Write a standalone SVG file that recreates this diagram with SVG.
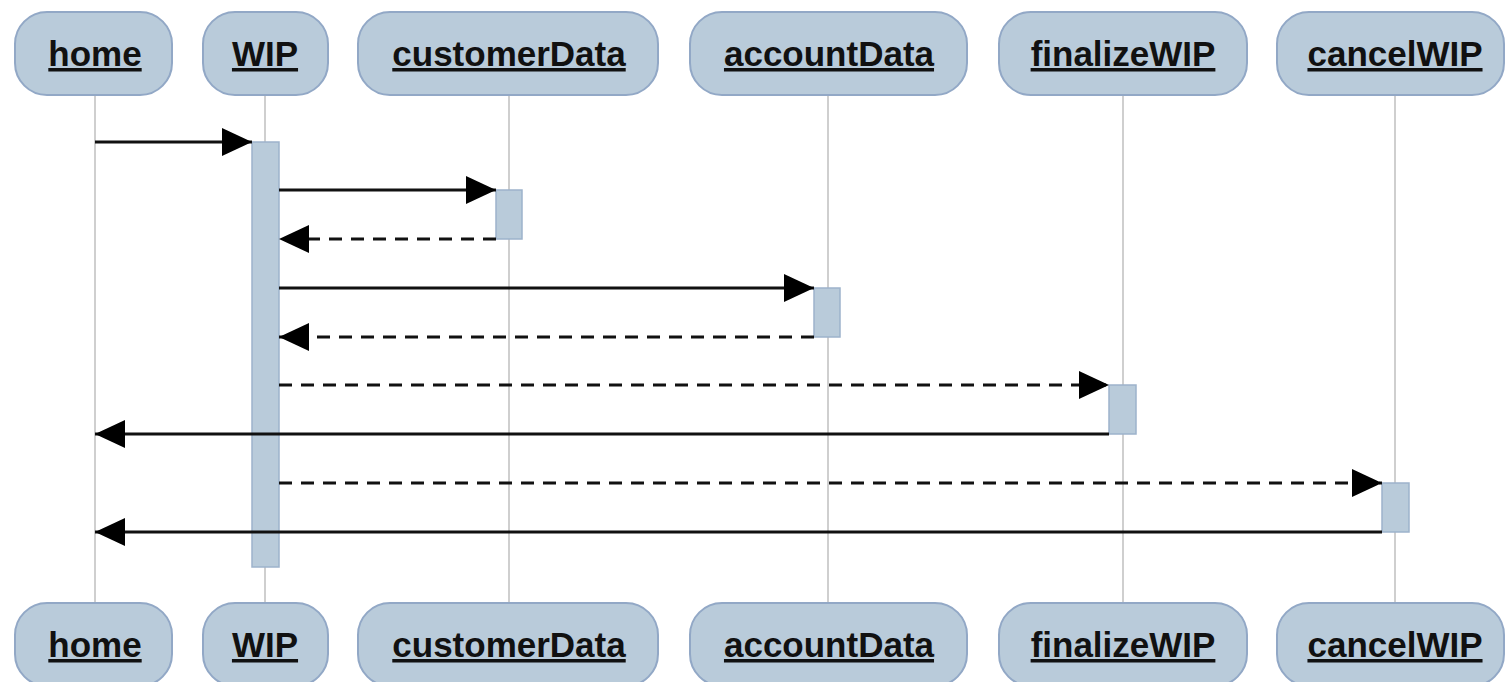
<svg xmlns="http://www.w3.org/2000/svg" width="1511" height="682" viewBox="0 0 1511 682">
<style>
.box{fill:#b9cbda;stroke:#92a8c6;stroke-width:2}
.lbl{font-family:"Liberation Sans",Arial,sans-serif;font-weight:bold;font-size:35px;fill:#111;text-anchor:middle;text-decoration:underline}
.life{stroke:#cfcfcf;stroke-width:2;fill:none}
.bar{fill:#b9cbda;stroke:#9db3cb;stroke-width:1.5}
.msg{stroke:#111;stroke-width:3;fill:none}
.dash{stroke-dasharray:13 9}
</style>
<defs>
<marker id="arr" viewBox="0 0 30 28" refX="30" refY="14" markerWidth="30" markerHeight="28" markerUnits="userSpaceOnUse" orient="auto">
<path d="M0,0 L30,14 L0,28 Z" fill="#000"/>
</marker>
</defs>
<rect width="1511" height="682" fill="#fff"/>
<g id="lifelines">
<line class="life" x1="95" y1="95" x2="95" y2="603"/>
<line class="life" x1="265" y1="95" x2="265" y2="603"/>
<line class="life" x1="509" y1="95" x2="509" y2="603"/>
<line class="life" x1="828" y1="95" x2="828" y2="603"/>
<line class="life" x1="1123" y1="95" x2="1123" y2="603"/>
<line class="life" x1="1395" y1="95" x2="1395" y2="603"/>
</g>
<g id="home">
<rect class="box" x="15" y="12" width="157" height="83" rx="32"/>
<text class="lbl" x="95" y="66">home</text>
<rect class="box" x="15" y="603" width="157" height="83" rx="32"/>
<text class="lbl" x="95" y="657">home</text>
</g>
<g id="WIP">
<rect class="box" x="203" y="12" width="125" height="83" rx="32"/>
<text class="lbl" x="265" y="66">WIP</text>
<rect class="box" x="203" y="603" width="125" height="83" rx="32"/>
<text class="lbl" x="265" y="657">WIP</text>
<rect class="bar" x="252" y="142" width="27" height="425"/>
</g>
<g id="customerData">
<rect class="box" x="358" y="12" width="300" height="83" rx="32"/>
<text class="lbl" x="509" y="66">customerData</text>
<rect class="box" x="358" y="603" width="300" height="83" rx="32"/>
<text class="lbl" x="509" y="657">customerData</text>
<rect class="bar" x="496" y="190" width="26" height="49"/>
</g>
<g id="accountData">
<rect class="box" x="690" y="12" width="277" height="83" rx="32"/>
<text class="lbl" x="829" y="66">accountData</text>
<rect class="box" x="690" y="603" width="277" height="83" rx="32"/>
<text class="lbl" x="829" y="657">accountData</text>
<rect class="bar" x="814" y="288" width="26" height="49"/>
</g>
<g id="finalizeWIP">
<rect class="box" x="999" y="12" width="248" height="83" rx="32"/>
<text class="lbl" x="1123" y="66">finalizeWIP</text>
<rect class="box" x="999" y="603" width="248" height="83" rx="32"/>
<text class="lbl" x="1123" y="657">finalizeWIP</text>
<rect class="bar" x="1109" y="385" width="27" height="49"/>
</g>
<g id="cancelWIP">
<rect class="box" x="1277" y="12" width="227" height="83" rx="32"/>
<text class="lbl" x="1395" y="66">cancelWIP</text>
<rect class="box" x="1277" y="603" width="227" height="83" rx="32"/>
<text class="lbl" x="1395" y="657">cancelWIP</text>
<rect class="bar" x="1382" y="483" width="27" height="49"/>
</g>
<g id="connectors">
<line class="msg" x1="95" y1="142" x2="252" y2="142" marker-end="url(#arr)"/>
<line class="msg" x1="279" y1="190" x2="496" y2="190" marker-end="url(#arr)"/>
<line class="msg dash" x1="496" y1="239" x2="279" y2="239" marker-end="url(#arr)"/>
<line class="msg" x1="279" y1="288" x2="814" y2="288" marker-end="url(#arr)"/>
<line class="msg dash" x1="814" y1="337" x2="279" y2="337" marker-end="url(#arr)"/>
<line class="msg dash" x1="279" y1="385" x2="1109" y2="385" marker-end="url(#arr)"/>
<line class="msg" x1="1109" y1="434" x2="95" y2="434" marker-end="url(#arr)"/>
<line class="msg dash" x1="279" y1="483" x2="1382" y2="483" marker-end="url(#arr)"/>
<line class="msg" x1="1382" y1="532" x2="95" y2="532" marker-end="url(#arr)"/>
</g>
</svg>
